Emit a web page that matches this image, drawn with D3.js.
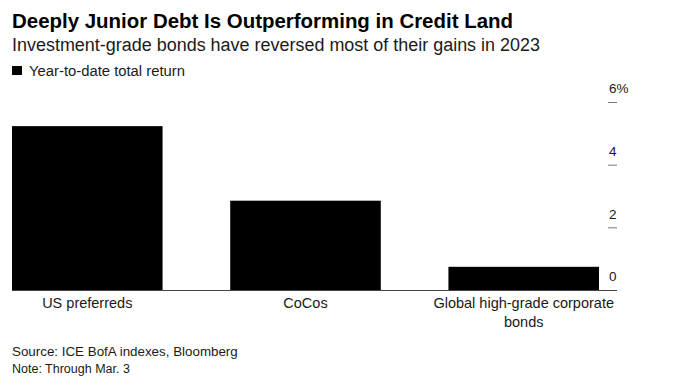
<!DOCTYPE html>
<html><head><meta charset="utf-8">
<script src="https://cdn.jsdelivr.net/npm/d3@7"></script>
<style>
html,body{margin:0;padding:0;background:#fff;}
svg text{font-family:"Liberation Sans",Arial,sans-serif;}
</style></head>
<body>
<svg id="chart" width="674" height="386"></svg>
<script>
const categories = ["US preferreds", "CoCos", "Global high-grade corporate bonds"];
const values = [5.23, 2.85, 0.74];
const tickValues = [0, 2, 4, 6];
const tickLabels = ["0", "2", "4", "6%"];
const title = "Deeply Junior Debt Is Outperforming in Credit Land";
const subtitle = "Investment-grade bonds have reversed most of their gains in 2023";
const legendLabel = "Year-to-date total return";
const sourceLines = ["Source: ICE BofA indexes, Bloomberg", "Note: Through Mar. 3"];

const svg = d3.select("#chart");

function squeeze(sel, target) {
  sel.attr("textLength", target).attr("lengthAdjust", "spacingAndGlyphs");
}
function fit(sel, target) {
  const n = sel.node();
  const w = n.getComputedTextLength();
  const fs = parseFloat(sel.attr("font-size"));
  sel.attr("font-size", (fs * target / w).toFixed(2));
}

// Titles
squeeze(svg.append("text").attr("x", 12).attr("y", 28).attr("font-size", 19.5)
  .attr("font-weight", "bold").attr("fill", "#000").text(title), 501);
squeeze(svg.append("text").attr("x", 12).attr("y", 51).attr("font-size", 18)
  .attr("fill", "#1a1a1a").text(subtitle), 528);

// Legend
svg.append("rect").attr("x", 12).attr("y", 66).attr("width", 10).attr("height", 9).attr("fill", "#000");
squeeze(svg.append("text").attr("x", 29).attr("y", 76).attr("font-size", 14)
  .attr("fill", "#1a1a1a").text(legendLabel), 156);

// Scales
const x = d3.scaleBand().domain(categories).range([12, 599]).paddingInner(0.31).paddingOuter(0);
const y = d3.scaleLinear().domain([0, 6]).range([290, 102]);

// Bars
svg.append("g").selectAll("rect").data(categories).join("rect")
  .attr("x", d => x(d))
  .attr("width", x.bandwidth())
  .attr("y", (d, i) => y(values[i]))
  .attr("height", (d, i) => y(0) - y(values[i]))
  .attr("fill", "#000");

// Y axis (right side, labels above ticks)
const yAxis = d3.axisRight(y).tickValues(tickValues).tickSize(9)
  .tickFormat((d, i) => tickLabels[i]);
const gy = svg.append("g").attr("transform", "translate(608,0)").call(yAxis);
gy.select(".domain").remove();
gy.selectAll(".tick line").attr("x1", 0).attr("x2", 9).attr("stroke", "#777").attr("stroke-width", 1);
gy.selectAll(".tick text").attr("x", 1).attr("dy", "-0.68em").attr("text-anchor", "start")
  .attr("font-size", 13.5).attr("fill", "#1a1a1a").attr("font-family", "Liberation Sans, Arial, sans-serif");

// Baseline
svg.append("line").attr("x1", 12).attr("x2", 617).attr("y1", y(0) + 0.5).attr("y2", y(0) + 0.5)
  .attr("stroke", "#444").attr("stroke-width", 1);

// Category labels (wrapped)
const wrapW = 190;
const gx = svg.append("g");
categories.forEach(c => {
  const cx = x(c) + x.bandwidth() / 2;
  const t = gx.append("text").attr("x", cx).attr("y", 308)
    .attr("text-anchor", "middle").attr("font-size", 14.5).attr("fill", "#1a1a1a");
  const words = c.split(" ");
  let line = [];
  let ts = t.append("tspan").attr("x", cx).attr("dy", 0);
  words.forEach(w => {
    line.push(w);
    ts.text(line.join(" "));
    if (ts.node().getComputedTextLength() > wrapW && line.length > 1) {
      line.pop(); ts.text(line.join(" "));
      line = [w];
      ts = t.append("tspan").attr("x", cx).attr("dy", 19).text(w);
    }
  });
});

// Source notes
sourceLines.forEach((s, i) => {
  const t = svg.append("text").attr("x", 12).attr("y", 356 + i * 17).attr("font-size", 12.5)
    .attr("fill", "#1a1a1a").text(s);
  if (i === 0) fit(t, 226);
});
</script>
</body></html>
